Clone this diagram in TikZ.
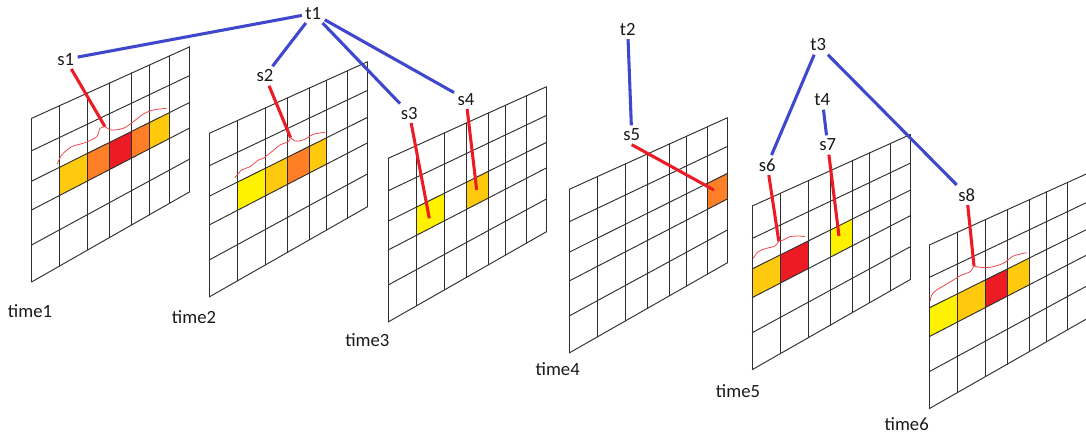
\documentclass[tikz,border=0pt]{standalone}
\usepackage{fontspec}
\setmainfont{Carlito}

\definecolor{pgold}{HTML}{FFC90E}
\definecolor{porange}{HTML}{FF7F27}
\definecolor{pred}{HTML}{ED1C24}
\definecolor{pyellow}{HTML}{FFF200}
\definecolor{pblue}{HTML}{3F48CC}

% column and row fractions of a slanted 7x5 panel
\def\colfr{{0,0.1772,0.3544,0.4918,0.6342,0.7424,0.8747,1}}
\def\rowfr{{0,0.198,0.384,0.560,0.774,1}}

% point of the current panel at fractions (u,v), bilinear in the four corners
\newcommand\gridpt[2]{({\gx+158*(#1)},{\gy-71.5*(#1)+163.6*(#2)-18.6*(#1)*(#2)})}

% fill one cell (column, row, colour) of the current panel
\newcommand\cellfill[3]{%
  \pgfmathsetmacro\ua{\colfr[#1]}\pgfmathsetmacro\ub{\colfr[#1+1]}%
  \pgfmathsetmacro\va{\rowfr[#2]}\pgfmathsetmacro\vb{\rowfr[#2+1]}%
  \fill[#3] \gridpt{\ua}{\va} -- \gridpt{\ub}{\va} -- \gridpt{\ub}{\vb} -- \gridpt{\ua}{\vb} -- cycle;}

% one time panel: top-left corner, list of column/colour cells in row 2
\newcommand\panel[3]{%
  \def\gx{#1}\def\gy{#2}%
  \foreach \c/\cc in {#3} {\cellfill{\c}{2}{\cc}}%
  \foreach \u in {0,0.1772,0.3544,0.4918,0.6342,0.7424,0.8747,1}
    {\draw[gridline] \gridpt{\u}{0} -- \gridpt{\u}{1};}%
  \foreach \v in {0,0.198,0.384,0.560,0.774,1}
    {\draw[gridline] \gridpt{0}{\v} -- \gridpt{1}{\v};}%
}

\begin{document}
\begin{tikzpicture}[x=0.75pt,y=-0.75pt,
  lbl/.style={font=\fontsize{14}{16}\selectfont, inner sep=2.5pt, text=black!90},
  gridline/.style={draw=black!82, line width=0.7pt, line cap=round},
  tline/.style={draw=pblue, line width=2.3pt},
  sline/.style={draw=pred, line width=2.3pt},
  bracecurve/.style={draw=pred!80, line width=0.6pt},
]
\useasboundingbox (0,0) rectangle (1086,437);
\clip (0,0) rectangle (1086,437);
\fill[white] (0,0) rectangle (1086,437);

% the six time panels
\panel{31.7}{118.3}{1/pgold,2/porange,3/pred,4/porange,5/pgold}
\panel{209.3}{133.3}{1/pyellow,2/pgold,3/porange,4/pgold}
\panel{388.3}{158.3}{1/pyellow,3/pgold}
\panel{569.3}{189.3}{6/porange}
\panel{752.3}{206}{0/pgold,1/pred,3/pyellow}
\panel{929.3}{245}{0/pyellow,1/pgold,2/pred,3/pgold}

% labels
\node[lbl] (t1) at (313.3,13.3) {t1};
\node[lbl] (t2) at (627.7,29.3) {t2};
\node[lbl] (t3) at (818.3,45) {t3};
\node[lbl] (t4) at (822.3,100) {t4};
\node[lbl] (s1) at (65.7,59.3) {s1};
\node[lbl] (s2) at (265,76) {s2};
\node[lbl] (s3) at (409.3,113.3) {s3};
\node[lbl] (s4) at (466,99.3) {s4};
\node[lbl] (s5) at (631.7,135) {s5};
\node[lbl] (s6) at (767.3,165) {s6};
\node[lbl] (s7) at (827.7,145) {s7};
\node[lbl] (s8) at (966.7,195) {s8};
\node[lbl] (time1) at (30,311.5) {time1};
\node[lbl] (time2) at (194,317) {time2};
\node[lbl] (time3) at (367.3,340) {time3};
\node[lbl] (time4) at (557.7,369) {time4};
\node[lbl] (time5) at (738,391) {time5};
\node[lbl] (time6) at (906.7,424) {time6};

% cells the segments point at
\coordinate (c1) at (105,126.7);
\coordinate (c2) at (290.5,137.5);
\coordinate (c3) at (429.3,218.3);
\coordinate (c4) at (476.7,190);
\coordinate (c5) at (714,190);
\coordinate (c6) at (778.8,241.2);
\coordinate (c7) at (839,236);
\coordinate (c8) at (974,266);

% tracks to segments
\draw[tline] (t1) -- (s1);
\draw[tline] (t1) -- (s2);
\draw[tline] (t1) -- (s3);
\draw[tline] (t1) -- (s4);
\draw[tline] (t2) -- (s5);
\draw[tline] (t3) -- (s6);
\draw[tline] (t3) -- (s8);
\draw[tline] (t4) -- (s7);

% segments to cells
\draw[sline] (s1) -- (c1);
\draw[sline] (s2) -- (c2);
\draw[sline] (s3) -- (c3);
\draw[sline] (s4) -- (c4);
\draw[sline] (s5.south) -- (c5);
\draw[sline] (s6) -- (c6);
\draw[sline] (s7) -- (c7);
\draw[sline] (s8) -- (c8);

% freehand braces over the cell runs
\draw[bracecurve] plot[smooth] coordinates {(c1) (100,128.3) (96.7,136.7) (85,142.7) (71.7,146.7) (61.7,155) (57.3,164)};
\draw[bracecurve] plot[smooth] coordinates {(c1) (111.7,130) (123.3,128.3) (133.3,121.7) (143.3,114) (153.3,110) (166.7,108.3)};
\draw[bracecurve] plot[smooth] coordinates {(c2) (288.3,141.7) (280,145) (271.7,151.7) (263.3,158.3) (258.3,160) (250,166.7) (241.7,170) (235,177.7)};
\draw[bracecurve] plot[smooth] coordinates {(c2) (295,141) (303.3,140) (313.3,134.3) (325,132.3)};
\draw[bracecurve] plot[smooth] coordinates {(c6) (775,246) (766.7,248.3) (758.3,251.7) (753.3,258.3)};
\draw[bracecurve] plot[smooth] coordinates {(c6) (783.3,240) (790,236.7) (798.3,236) (805,236.7)};
\draw[bracecurve] plot[smooth] coordinates {(c8) (970,271.7) (961.7,275) (953.3,280) (945,285) (936.7,290) (931.7,295) (930,301.7)};
\draw[bracecurve] plot[smooth] coordinates {(c8) (980,267.3) (990,267.3) (1003.3,263.3) (1013.3,256) (1026.7,252.7)};
\end{tikzpicture}
\end{document}
